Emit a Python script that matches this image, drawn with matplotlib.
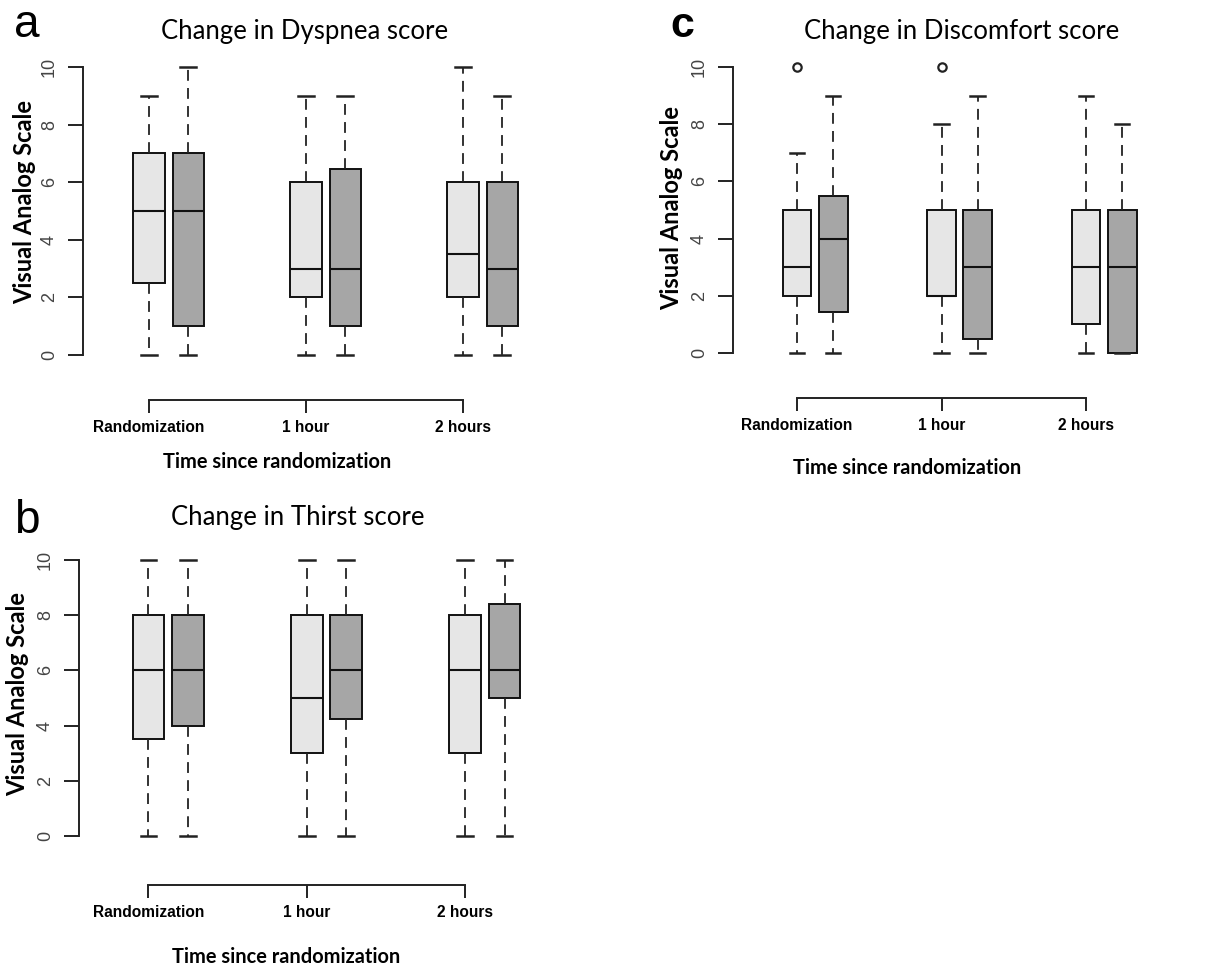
import matplotlib.pyplot as plt

# time points and box positions (light = first group, dark = second group)
groups = ['Randomization', '1 hour', '2 hours']
positions = [1, 2, 5, 6, 9, 10]
box_colors = ['#e6e6e6', '#a6a6a6'] * 3

# a: Dyspnea
dysp_lo = [0, 0, 0, 0, 0, 0]
dysp_q1 = [2.5, 1, 2, 1, 2, 1]
dysp_med = [5, 5, 3, 3, 3.5, 3]
dysp_q3 = [7, 7, 6, 6.45, 6, 6]
dysp_hi = [9, 10, 9, 9, 10, 9]
dysp_out = [[], [], [], [], [], []]

# b: Thirst
thirst_lo = [0, 0, 0, 0, 0, 0]
thirst_q1 = [3.5, 4, 3, 4.25, 3, 5]
thirst_med = [6, 6, 5, 6, 6, 6]
thirst_q3 = [8, 8, 8, 8, 8, 8.4]
thirst_hi = [10, 10, 10, 10, 10, 10]
thirst_out = [[], [], [], [], [], []]

# c: Discomfort
disc_lo = [0, 0, 0, 0, 0, 0]
disc_q1 = [2, 1.45, 2, 0.5, 1, 0]
disc_med = [3, 4, 2, 3, 3, 3]
disc_q3 = [5, 5.5, 5, 5, 5, 5]
disc_hi = [7, 9, 8, 9, 9, 8]
disc_out = [[10], [], [10], [], [], []]

W, H = 1221, 969
fig = plt.figure(figsize=(W / 100, H / 100), dpi=100)

title_font = ['Lato', 'DejaVu Sans']
tick_font = ['Liberation Sans', 'DejaVu Sans']


def fx(px):
    return px / W


def fy(py):
    return 1 - py / H


def panel(lo, q1, med, q3, hi, out, x1, x9, y0, y10, left, bottom):
    sx = (x9 - x1) / 8.0
    sy = (y0 - y10) / 10.0
    xl = 1 - (x1 - left) / sx
    xr = 10.6
    yb = -(bottom - y0) / sy
    yt = 10.45
    right = x1 + (xr - 1) * sx
    top = y10 - (yt - 10) * sy
    ax = fig.add_axes([fx(left), fy(bottom), (right - left) / W, (bottom - top) / H])
    stats = []
    for i in range(len(positions)):
        stats.append(dict(med=med[i], q1=q1[i], q3=q3[i], whislo=lo[i],
                          whishi=hi[i], fliers=out[i]))
    bp = ax.bxp(stats, positions=positions, widths=0.8, capwidths=0.4,
                patch_artist=True, manage_ticks=False,
                boxprops=dict(edgecolor='#111111', linewidth=1.4),
                whiskerprops=dict(color='#222222', linewidth=1.3, linestyle=(0, (6, 4))),
                capprops=dict(color='#222222', linewidth=1.8),
                medianprops=dict(color='#111111', linewidth=1.5),
                flierprops=dict(marker='o', markerfacecolor='none',
                                markeredgecolor='#222222', markersize=6,
                                markeredgewidth=1.6))
    for patch, c in zip(bp['boxes'], box_colors):
        patch.set_facecolor(c)
    ax.set_xlim(xl, xr)
    ax.set_ylim(yb, yt)
    for s in ['top', 'right']:
        ax.spines[s].set_visible(False)
    ax.spines['left'].set_bounds(0, 10)
    ax.spines['bottom'].set_bounds(1, 9)
    for s in ['left', 'bottom']:
        ax.spines[s].set_linewidth(1.4)
        ax.spines[s].set_color('#222222')
    ax.set_yticks(range(0, 11, 2))
    ax.set_xticks([1, 5, 9])
    ax.set_xticklabels(groups, family=tick_font, fontweight='bold', fontsize=11.2)
    ax.tick_params(axis='y', labelrotation=90, length=11, width=1.4,
                   pad=7, labelsize=13, labelcolor='#444444', color='#222222')
    ax.tick_params(axis='x', length=9.5, width=1.4, pad=5, color='#222222')
    for lab in ax.get_yticklabels():
        lab.set_va('center')
        lab.set_family(['Liberation Sans', 'DejaVu Sans'])
    return ax


panel(dysp_lo, dysp_q1, dysp_med, dysp_q3, dysp_hi, dysp_out,
      149, 463, 355, 67, 83, 400)
panel(thirst_lo, thirst_q1, thirst_med, thirst_q3, thirst_hi, thirst_out,
      148.5, 465, 836, 560, 79, 885)
panel(disc_lo, disc_q1, disc_med, disc_q3, disc_hi, disc_out,
      797, 1086, 353, 67, 733, 398)

# titles
fig.text(fx(305), fy(32), 'Change in Dyspnea score', ha='center', va='center',
         family=title_font, fontsize=18.5)
fig.text(fx(298), fy(518), 'Change in Thirst score', ha='center', va='center',
         family=title_font, fontsize=18.5)
fig.text(fx(962), fy(32), 'Change in Discomfort score', ha='center', va='center',
         family=title_font, fontsize=18.5)

# panel letters
fig.text(fx(14), fy(37), 'a', ha='left', va='baseline',
         family=['Liberation Sans', 'DejaVu Sans'], fontsize=33)
fig.text(fx(14), fy(533), 'b', ha='left', va='baseline',
         family=['Liberation Sans', 'DejaVu Sans'], fontsize=33)
fig.text(fx(670), fy(37), 'c', ha='left', va='baseline',
         family=['Liberation Sans', 'DejaVu Sans'], fontsize=31, fontweight='bold')

# axis labels
for x, y in [(277, 462), (286, 957), (907, 468)]:
    fig.text(fx(x), fy(y), 'Time since randomization', ha='center', va='center',
             family=title_font, fontsize=14.4, fontweight='bold')
for x, y in [(25, 202), (18, 694), (672, 208)]:
    fig.text(fx(x), fy(y), 'Visual Analog Scale', ha='center', va='center',
             rotation=90, family=title_font, fontsize=17, fontweight='bold')

fig.savefig('out.png', dpi=100)
